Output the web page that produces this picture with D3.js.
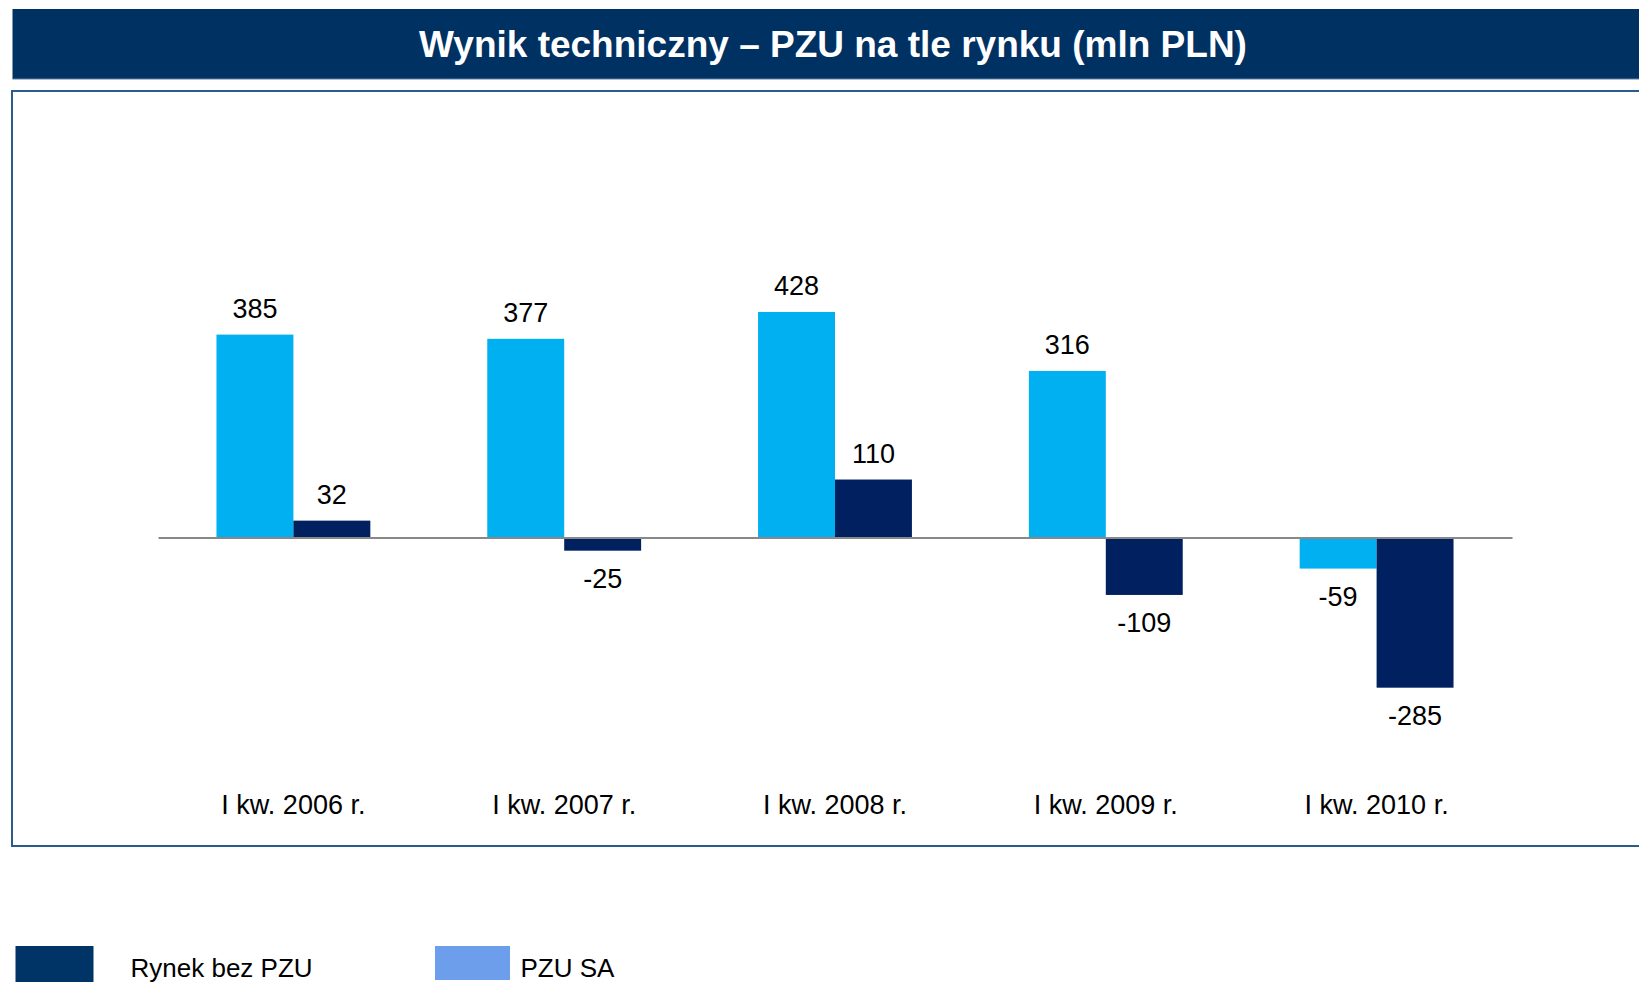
<!DOCTYPE html>
<html>
<head>
<meta charset="utf-8">
<script src="https://cdn.jsdelivr.net/npm/d3@7.9.0/dist/d3.min.js"></script>
<style>
  html, body { margin: 0; padding: 0; background: #fff; }
  svg { display: block; font-family: Arial, "Liberation Sans", sans-serif; }
</style>
</head>
<body>
<div id="chart"></div>
<script>
const title = 'Wynik techniczny \u2013 PZU na tle rynku (mln PLN)';
const categories = ['I kw. 2006 r.', 'I kw. 2007 r.', 'I kw. 2008 r.', 'I kw. 2009 r.', 'I kw. 2010 r.'];
const series = ['PZU SA', 'Rynek bez PZU'];
const pzuValues = [385, 377, 428, 316, -59];
const marketValues = [32, -25, 110, -109, -285];
const legendItems = ['Rynek bez PZU', 'PZU SA'];

const barColors = { 'PZU SA': '#00b0f0', 'Rynek bez PZU': '#002060' };
const legendColors = { 'Rynek bez PZU': '#003366', 'PZU SA': '#6d9eeb' };

const width = 1639;
const height = 983;

const rows = categories.map((c, i) => ({
  category: c,
  values: [
    { key: 'PZU SA', value: pzuValues[i] },
    { key: 'Rynek bez PZU', value: marketValues[i] },
  ],
}));

const svg = d3
  .select('#chart')
  .append('svg')
  .attr('width', width)
  .attr('height', height);

// title banner
svg.append('rect')
  .attr('x', 12.5).attr('y', 9)
  .attr('width', width - 12.5).attr('height', 70)
  .attr('fill', '#003163');
svg.append('line')
  .attr('x1', 12.5).attr('x2', width)
  .attr('y1', 79).attr('y2', 79)
  .attr('stroke', '#5a7fa8').attr('stroke-width', 1);
svg.append('text')
  .attr('x', 833).attr('y', 56.5)
  .attr('text-anchor', 'middle')
  .attr('fill', '#fff')
  .attr('font-weight', 'bold')
  .attr('font-size', 37)
  .text(title);

// plot frame
svg.append('rect')
  .attr('x', 12).attr('y', 91)
  .attr('width', width).attr('height', 755)
  .attr('fill', 'none')
  .attr('stroke', '#2b5a8c').attr('stroke-width', 2);

const x0 = d3.scaleBand()
  .domain(categories)
  .range([158, 1512]);

const x1 = d3.scaleBand()
  .domain(series)
  .range([0, x0.bandwidth()])
  .paddingInner(0)
  .paddingOuter(0.76);

const y = d3.scaleLinear()
  .domain([-300, 450])
  .range([537.5 + 300 * 0.527, 537.5 - 450 * 0.527]);

const groups = svg.append('g')
  .selectAll('g')
  .data(rows)
  .join('g')
  .attr('transform', d => `translate(${x0(d.category)},0)`);

groups.selectAll('rect')
  .data(d => d.values)
  .join('rect')
  .attr('x', d => x1(d.key))
  .attr('width', x1.bandwidth())
  .attr('y', d => y(Math.max(0, d.value)))
  .attr('height', d => Math.abs(y(d.value) - y(0)))
  .attr('fill', d => barColors[d.key]);

groups.selectAll('text')
  .data(d => d.values)
  .join('text')
  .attr('x', d => x1(d.key) + x1.bandwidth() / 2)
  .attr('y', d => d.value >= 0 ? y(d.value) - 17 : y(d.value) + 37)
  .attr('text-anchor', 'middle')
  .attr('font-size', 27)
  .attr('fill', '#000')
  .text(d => d.value);

// zero line + category labels
const xAxis = svg.append('g')
  .attr('transform', `translate(0,${y(0)})`)
  .call(d3.axisBottom(x0).tickSize(0).tickSizeOuter(0).tickPadding(257));
xAxis.select('.domain').attr('stroke', '#888').attr('stroke-width', 2);
xAxis.selectAll('text')
  .attr('font-size', 27)
  .attr('font-family', 'Arial, "Liberation Sans", sans-serif')
  .attr('fill', '#000');

// legend
const legendX = [15.5, 435];
const legend = svg.append('g')
  .selectAll('g')
  .data(legendItems)
  .join('g')
  .attr('transform', (d, i) => `translate(${legendX[i]},946)`);
legend.append('rect')
  .attr('width', (d, i) => i === 0 ? 78 : 75)
  .attr('height', (d, i) => i === 0 ? 36 : 34)
  .attr('fill', d => legendColors[d]);
legend.append('text')
  .attr('x', (d, i) => i === 0 ? 115 : 85.5)
  .attr('y', 31)
  .attr('font-size', 26)
  .attr('fill', '#000')
  .text(d => d);
</script>
</body>
</html>
